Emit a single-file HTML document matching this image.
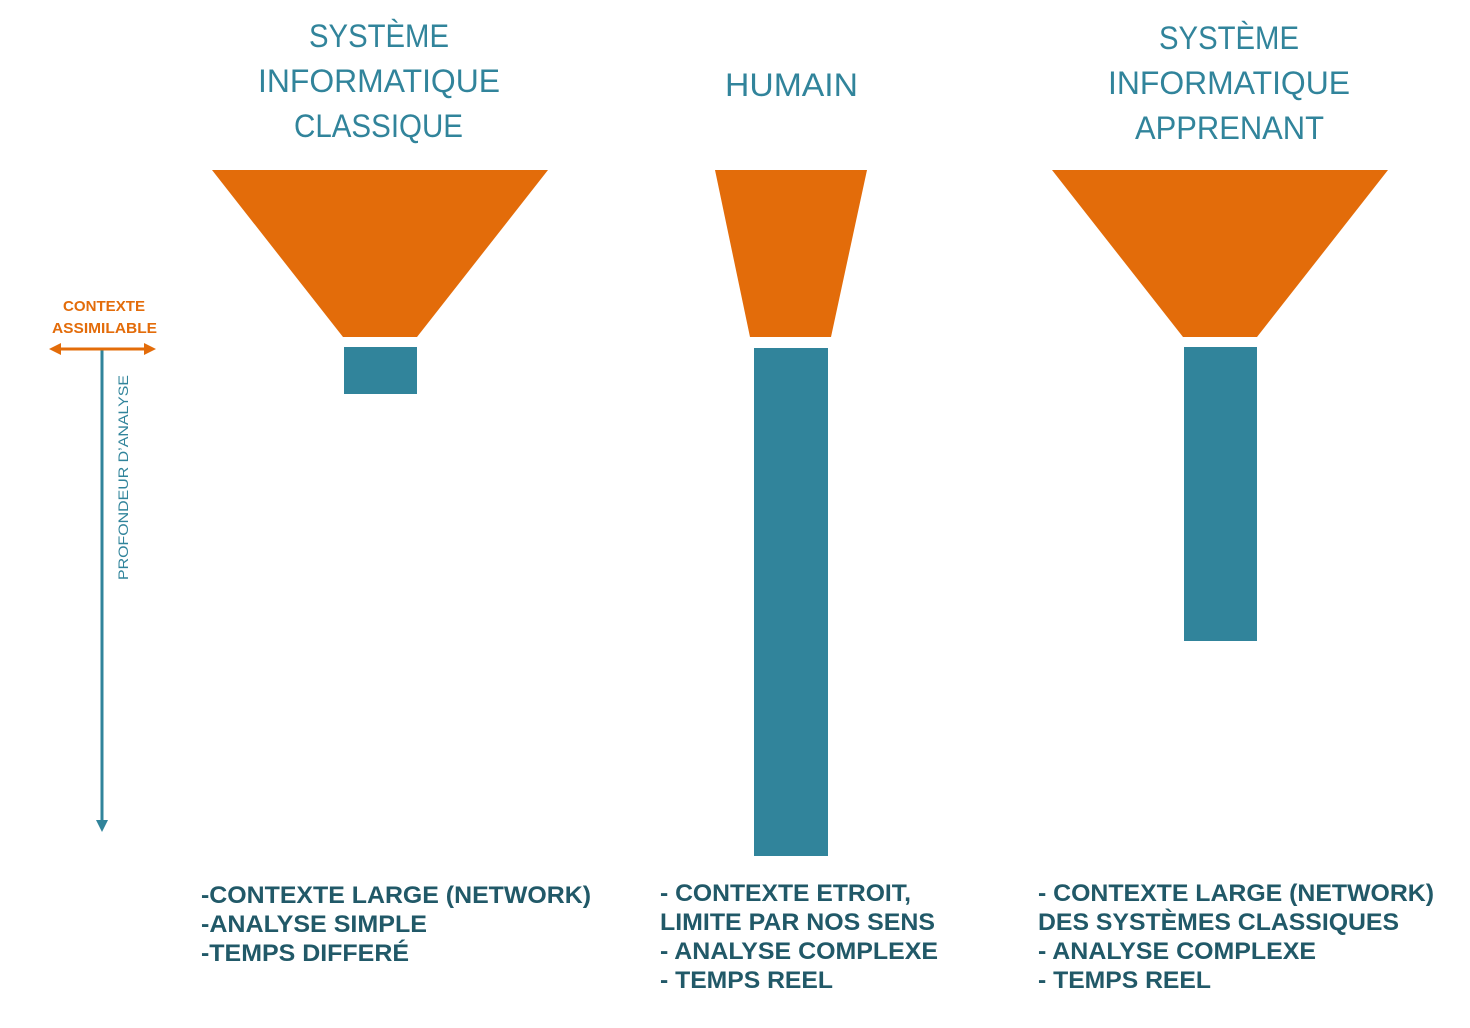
<!DOCTYPE html>
<html><head><meta charset="utf-8"><style>html,body{margin:0;padding:0;background:#fff}svg{display:block}</style></head>
<body>
<svg width="1470" height="1028" viewBox="0 0 1470 1028" xmlns="http://www.w3.org/2000/svg">
<g font-family="Liberation Sans, DejaVu Sans, sans-serif" fill="#31849B" font-size="32">
<text x="309" y="47" textLength="140" lengthAdjust="spacingAndGlyphs">SYSTÈME</text>
<text x="258" y="92" textLength="242" lengthAdjust="spacingAndGlyphs">INFORMATIQUE</text>
<text x="294" y="137" textLength="169" lengthAdjust="spacingAndGlyphs">CLASSIQUE</text>
<text x="725" y="96" textLength="133" lengthAdjust="spacingAndGlyphs">HUMAIN</text>
<text x="1159" y="49" textLength="140" lengthAdjust="spacingAndGlyphs">SYSTÈME</text>
<text x="1108" y="94" textLength="242" lengthAdjust="spacingAndGlyphs">INFORMATIQUE</text>
<text x="1135" y="139" textLength="189" lengthAdjust="spacingAndGlyphs">APPRENANT</text>
</g>
<g fill="#E36C0A">
<polygon points="212,170 548,170 417,337 343,337"/>
<polygon points="715,170 867,170 831,337 750,337"/>
<polygon points="1052,170 1388,170 1257,337 1183,337"/>
</g>
<g fill="#31849B">
<rect x="344" y="347" width="73" height="47"/>
<rect x="754" y="348" width="74" height="508"/>
<rect x="1184" y="347" width="73" height="294"/>
</g>
<line x1="102" y1="349" x2="102" y2="822" stroke="#31849B" stroke-width="3"/>
<polygon points="96,820 108,820 102,832" fill="#31849B"/>
<line x1="58" y1="349" x2="147" y2="349" stroke="#E36C0A" stroke-width="3"/>
<polygon points="49,349 61,343 61,355" fill="#E36C0A"/>
<polygon points="156,349 144,343 144,355" fill="#E36C0A"/>
<g font-family="Liberation Sans, DejaVu Sans, sans-serif" font-weight="bold" font-size="15" fill="#E36C0A">
<text x="63" y="311" textLength="82" lengthAdjust="spacingAndGlyphs">CONTEXTE</text>
<text x="52" y="333" textLength="105" lengthAdjust="spacingAndGlyphs">ASSIMILABLE</text>
</g>
<text transform="translate(128,580) rotate(-90)" font-family="Liberation Sans, DejaVu Sans, sans-serif" font-size="14" fill="#31849B" textLength="205" lengthAdjust="spacingAndGlyphs">PROFONDEUR D’ANALYSE</text>
<g font-family="Liberation Sans, DejaVu Sans, sans-serif" font-weight="bold" font-size="24" fill="#215968">
<text x="201" y="903" textLength="390" lengthAdjust="spacingAndGlyphs">-CONTEXTE LARGE (NETWORK)</text>
<text x="201" y="932" textLength="226" lengthAdjust="spacingAndGlyphs">-ANALYSE SIMPLE</text>
<text x="201" y="961" textLength="208" lengthAdjust="spacingAndGlyphs">-TEMPS DIFFERÉ</text>
<text x="660" y="901" textLength="251" lengthAdjust="spacingAndGlyphs">- CONTEXTE ETROIT,</text>
<text x="660" y="930" textLength="275" lengthAdjust="spacingAndGlyphs">LIMITE PAR NOS SENS</text>
<text x="660" y="959" textLength="278" lengthAdjust="spacingAndGlyphs">- ANALYSE COMPLEXE</text>
<text x="660" y="988" textLength="173" lengthAdjust="spacingAndGlyphs">- TEMPS REEL</text>
<text x="1038" y="901" textLength="396" lengthAdjust="spacingAndGlyphs">- CONTEXTE LARGE (NETWORK)</text>
<text x="1038" y="930" textLength="361" lengthAdjust="spacingAndGlyphs">DES SYSTÈMES CLASSIQUES</text>
<text x="1038" y="959" textLength="278" lengthAdjust="spacingAndGlyphs">- ANALYSE COMPLEXE</text>
<text x="1038" y="988" textLength="173" lengthAdjust="spacingAndGlyphs">- TEMPS REEL</text>
</g>
</svg>
</body></html>
